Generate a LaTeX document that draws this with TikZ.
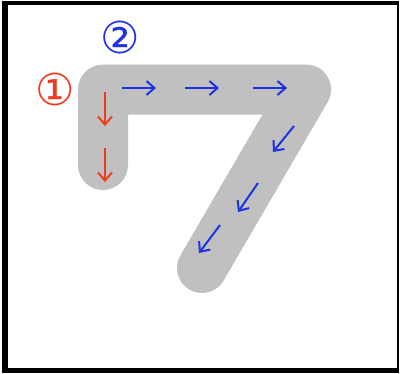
\documentclass[tikz,border=0pt]{standalone}
\usepackage{fontspec}
\newfontfamily\circfont{DejaVu Sans}
\usetikzlibrary{arrows.meta}
\definecolor{strokered}{RGB}{240,60,30}
\definecolor{strokeblue}{RGB}{30,50,225}
\definecolor{strokegray}{RGB}{192,192,192}
\tikzset{
  stroke/.style={line width=50pt,line cap=round,line join=round,color=strokegray},
  order/.style={inner sep=0pt,font=\circfont\fontsize{44}{44}\selectfont},
  redarrow/.style={strokered,line width=2pt,-{Straight Barb[length=8pt,width=14pt]}},
  bluearrow/.style={strokeblue,line width=2pt,-{Straight Barb[length=8pt,width=14pt]}}
}
\begin{document}
\begin{tikzpicture}[x=1pt,y=-1pt]
    % frame
    \fill[white] (0,0) rectangle (401,373);
    \fill[black] (2,1) rectangle (399,373);
    \fill[white] (8,5) rectangle (397,368);
    % the stroke
    \draw[stroke] (103,165) -- (103,89.5) -- (306,89.5) -- (202,268);
    % stroke order
    \node[order,text=strokered] (one) at (55,89) {①};
    \node[order,text=strokeblue] (two) at (120,37) {②};
    \foreach \y in {92,148} \draw[redarrow] (105,\y) -- (105,\y+34);
    \foreach \x in {122,185,253} \draw[bluearrow] (\x,88) -- (\x+34,88);
    \draw[bluearrow] (294,126) -- (273,152);
    \draw[bluearrow] (258,183) -- (238,212);
    \draw[bluearrow] (220,225) -- (199,253);
\end{tikzpicture}
\end{document}
